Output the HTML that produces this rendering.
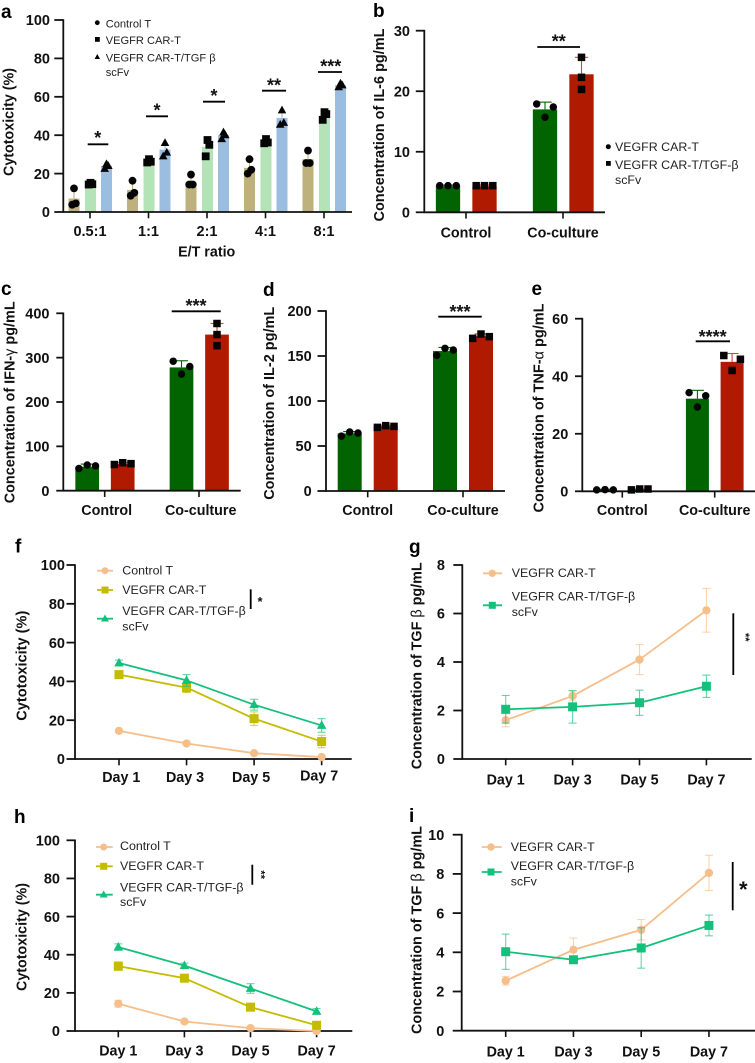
<!DOCTYPE html>
<html lang="en">
<head>
<meta charset="utf-8">
<title>CAR-T cytotoxicity and cytokine figure</title>
<style>
html,body{margin:0;padding:0;background:#fff;}
svg{display:block;position:absolute;left:0;top:0;filter:blur(0.3px);}
text{font-family:"Liberation Sans",Arial,sans-serif;fill:#111;}
.panel-letter{font-size:19px;font-weight:700;fill:#000;}
.ytitle{font-size:14.5px;font-weight:700;text-anchor:middle;}
.thin{font-weight:400;}
.leg-a{font-size:11.1px;fill:#222;}
.leg{font-size:12.4px;fill:#222;}
.star{font-size:18px;font-weight:700;text-anchor:middle;}
.xt{font-size:14.3px;font-weight:700;}
.sig{stroke:#000;stroke-width:1.8;fill:none;}
</style>
</head>
<body>
<svg id="figure" xmlns="http://www.w3.org/2000/svg" width="755" height="1063" viewBox="0 0 755 1063">
<rect x="0" y="0" width="755" height="1063" fill="#fff"/>

<g id="panel-a">
  <text class="panel-letter" x="1" y="18">a</text>
  <text class="ytitle" transform="translate(8.5,122) rotate(-90)" y="5" textLength="108" lengthAdjust="spacingAndGlyphs">Cytotoxicity (%)</text>
  <text class="xt" x="206.7" y="256.7" text-anchor="middle">E/T ratio</text>
  <g>
    <circle cx="97.3" cy="22.7" r="2.4" fill="#000"/>
    <text class="leg-a" x="105.7" y="27.3">Control T</text>
    <rect x="95" y="37" width="4.8" height="4.8" fill="#000"/>
    <text class="leg-a" x="105.7" y="44">VEGFR CAR-T</text>
    <polygon points="97.3,54 100,59 94.6,59" fill="#000"/>
    <text class="leg-a" x="105.7" y="61.3">VEGFR CAR-T/TGF β</text>
    <text class="leg-a" x="105.7" y="76">scFv</text>
  </g>
  <g>
    <line class="sig" x1="87.7" x2="108.3" y1="144.3" y2="144.3"/>
    <text class="star" x="97.7" y="144">*</text>
    <line class="sig" x1="146" x2="168" y1="116.3" y2="116.3"/>
    <text class="star" x="157" y="116.7">*</text>
    <line class="sig" x1="203" x2="225" y1="101.7" y2="101.7"/>
    <text class="star" x="214" y="102">*</text>
    <line class="sig" x1="262" x2="286" y1="90.7" y2="90.7"/>
    <text class="star" x="274" y="91.7">**</text>
    <line class="sig" x1="318" x2="342" y1="72" y2="72"/>
    <text class="star" x="330.7" y="72.7">***</text>
  </g>
</g>

<g id="panel-b">
  <text class="panel-letter" x="373" y="17">b</text>
  <text class="ytitle" transform="translate(379,125) rotate(-90)" y="5" textLength="193" lengthAdjust="spacingAndGlyphs">Concentration of IL-6 pg/mL</text>
  <g>
    <circle cx="608.3" cy="146.7" r="2.5" fill="#000"/>
    <text class="leg" x="615" y="151">VEGFR CAR-T</text>
    <rect x="606" y="161" width="4.8" height="4.8" fill="#000"/>
    <text class="leg" x="615" y="169">VEGFR CAR-T/TGF-β</text>
    <text class="leg" x="615" y="184">scFv</text>
  </g>
  <line class="sig" x1="537.3" x2="580" y1="47" y2="47"/>
  <text class="star" x="558.7" y="47.7">**</text>
</g>

<g id="panel-c">
  <text class="panel-letter" x="1" y="295">c</text>
  <text class="ytitle" transform="translate(9.3,402.3) rotate(-90)" y="5" textLength="202" lengthAdjust="spacingAndGlyphs">Concentration of IFN-<tspan class="thin">γ</tspan> pg/mL</text>
  <line class="sig" x1="171.7" x2="220.7" y1="311.3" y2="311.3"/>
  <text class="star" x="196" y="312">***</text>
</g>

<g id="panel-d">
  <text class="panel-letter" x="263" y="296">d</text>
  <text class="ytitle" transform="translate(269,403.3) rotate(-90)" y="5" textLength="193" lengthAdjust="spacingAndGlyphs">Concentration of IL-2 pg/mL</text>
  <line class="sig" x1="438.3" x2="481.7" y1="316.7" y2="316.7"/>
  <text class="star" x="460" y="318">***</text>
</g>

<g id="panel-e">
  <text class="panel-letter" x="531.5" y="295">e</text>
  <text class="ytitle" transform="translate(538.3,408) rotate(-90)" y="5" textLength="209" lengthAdjust="spacingAndGlyphs">Concentration of TNF-<tspan class="thin">α</tspan> pg/mL</text>
  <line class="sig" x1="695.7" x2="730" y1="341.3" y2="341.3"/>
  <text class="star" x="712.7" y="343">****</text>
</g>

<g id="panel-f">
  <text class="panel-letter" x="15" y="552.7">f</text>
  <text class="ytitle" transform="translate(21.7,665.7) rotate(-90)" y="5" textLength="110" lengthAdjust="spacingAndGlyphs">Cytotoxicity (%)</text>
  <g>
    <line x1="97" x2="113" y1="570.7" y2="570.7" stroke="#f5bf8c" stroke-width="1.8"/>
    <circle cx="105" cy="570.7" r="3.5" fill="#f5bf8c"/>
    <text class="leg" x="122.3" y="574.7">Control T</text>
    <line x1="97" x2="113" y1="590" y2="590" stroke="#c4bc00" stroke-width="1.8"/>
    <rect x="101.5" y="586.5" width="7" height="7" fill="#c4bc00"/>
    <text class="leg" x="122.3" y="594">VEGFR CAR-T</text>
    <line x1="97" x2="113" y1="618.7" y2="618.7" stroke="#14c07c" stroke-width="1.8"/>
    <polygon points="105,614.5 109,621.5 101,621.5" fill="#14c07c"/>
    <text class="leg" x="122.3" y="615">VEGFR CAR-T/TGF-β</text>
    <text class="leg" x="122.3" y="630.5">scFv</text>
  </g>
  <line class="sig" x1="250.7" x2="250.7" y1="589.3" y2="609"/>
  <text class="star" style="font-size:13px" x="260" y="606">*</text>
</g>

<g id="panel-g">
  <text class="panel-letter" x="409" y="553">g</text>
  <text class="ytitle" transform="translate(416.7,665.8) rotate(-90)" y="5" textLength="207" lengthAdjust="spacingAndGlyphs">Concentration of TGF <tspan class="thin">β</tspan> pg/mL</text>
  <g>
    <line x1="483" x2="502" y1="573.3" y2="573.3" stroke="#f5bf8c" stroke-width="1.8"/>
    <circle cx="492.3" cy="573.3" r="3.7" fill="#f5bf8c"/>
    <text class="leg" x="511.7" y="577">VEGFR CAR-T</text>
    <line x1="483" x2="502" y1="605.3" y2="605.3" stroke="#14c07c" stroke-width="1.8"/>
    <rect x="488.8" y="601.8" width="7" height="7" fill="#14c07c"/>
    <text class="leg" x="511.7" y="600.5">VEGFR CAR-T/TGF-β</text>
    <text class="leg" x="511.7" y="616">scFv</text>
  </g>
  <line class="sig" x1="733.3" x2="733.3" y1="613.3" y2="675"/>
  <text class="star" style="font-size:11px" transform="translate(748,637.3) rotate(90)" y="6">**</text>
</g>

<g id="panel-h">
  <text class="panel-letter" x="14" y="823">h</text>
  <text class="ytitle" transform="translate(21.7,937) rotate(-90)" y="5" textLength="108" lengthAdjust="spacingAndGlyphs">Cytotoxicity (%)</text>
  <g>
    <line x1="96" x2="112.7" y1="847" y2="847" stroke="#f5bf8c" stroke-width="1.8"/>
    <circle cx="103.7" cy="847" r="3.5" fill="#f5bf8c"/>
    <text class="leg" x="120" y="850">Control T</text>
    <line x1="96" x2="112.7" y1="866.3" y2="866.3" stroke="#c4bc00" stroke-width="1.8"/>
    <rect x="100.2" y="862.8" width="7" height="7" fill="#c4bc00"/>
    <text class="leg" x="120" y="870">VEGFR CAR-T</text>
    <line x1="96" x2="112.7" y1="894.7" y2="894.7" stroke="#14c07c" stroke-width="1.8"/>
    <polygon points="103.7,890.5 107.7,897.5 99.7,897.5" fill="#14c07c"/>
    <text class="leg" x="120" y="891.5">VEGFR CAR-T/TGF-β</text>
    <text class="leg" x="120" y="906">scFv</text>
  </g>
  <line class="sig" x1="252.3" x2="252.3" y1="864.7" y2="884.7"/>
  <text class="star" style="font-size:11px" transform="translate(263.3,874.7) rotate(90)" y="6">**</text>
</g>

<g id="panel-i">
  <text class="panel-letter" x="409" y="822">i</text>
  <text class="ytitle" transform="translate(416.7,930) rotate(-90)" y="5" textLength="208" lengthAdjust="spacingAndGlyphs">Concentration of TGF <tspan class="thin">β</tspan> pg/mL</text>
  <g>
    <line x1="481.7" x2="501.7" y1="847" y2="847" stroke="#f5bf8c" stroke-width="1.8"/>
    <circle cx="491" cy="847" r="3.7" fill="#f5bf8c"/>
    <text class="leg" x="510.7" y="851">VEGFR CAR-T</text>
    <line x1="481.7" x2="501.7" y1="872" y2="872" stroke="#14c07c" stroke-width="1.8"/>
    <rect x="487.5" y="868.5" width="7" height="7" fill="#14c07c"/>
    <text class="leg" x="510.7" y="870">VEGFR CAR-T/TGF-β</text>
    <text class="leg" x="510.7" y="885.5">scFv</text>
  </g>
  <line class="sig" x1="732.7" x2="732.7" y1="862" y2="910.3"/>
  <text class="star" style="font-size:22px" x="743.3" y="897">*</text>
</g>
</svg>

<script>
/* ---------- Panel a: cytotoxicity by E/T ratio ---------- */
const aCategories = ['0.5:1', '1:1', '2:1', '4:1', '8:1'];
const aTicks = [0, 20, 40, 60, 80, 100];
const aControlMeans = [7, 11.5, 15.5, 23, 27.5];
const aCarMeans = [14.5, 26, 34, 36, 50];
const aTgfMeans = [24, 32.5, 40, 49, 66];
const aControlErr = [5, 4, 3, 4, 4];
const aCarErr = [1, 1, 4.8, 1, 2];
const aTgfErr = [1.5, 3.5, 1.5, 4, 1];
const aControlPts = [[12.3, 4.5, 3.8], [16.3, 10, 8.5], [19.5, 14.3, 14.3], [27.5, 22, 20], [32, 25.5, 25.5]];
const aCarPts = [[15.2, 14.5, 14.3], [27.5, 26.2, 25.8], [37.5, 35, 29], [38, 36.2, 35.8], [52, 51, 48]];
const aTgfPts = [[25, 24, 22.5], [36, 31, 29], [41.5, 40, 38], [53, 46.5, 45.5], [67, 66, 65]];

/* ---------- Panel b: IL-6 ---------- */
const cytokineGroups = ['Control', 'Co-culture'];
const bTicks = [0, 10, 20, 30];
const bCarMeans = [4.3, 17];
const bTgfMeans = [4.3, 22.8];
const bCarErr = [0.2, 1.2];
const bTgfErr = [0.2, 2.8];
const bCarPts = [[4.4, 4.4, 4.4], [17.9, 15.7, 17.4]];
const bTgfPts = [[4.4, 4.4, 4.4], [25.6, 22.3, 20.3]];

/* ---------- Panel c: IFN-gamma ---------- */
const cTicks = [0, 100, 200, 300, 400];
const cCarMeans = [54, 278];
const cTgfMeans = [60, 352];
const cCarErr = [6, 15];
const cTgfErr = [3, 25];
const cCarPts = [[50, 58, 56], [292, 263, 280]];
const cTgfPts = [[59, 63, 61], [377, 352, 327]];

/* ---------- Panel d: IL-2 ---------- */
const dTicks = [0, 50, 100, 150, 200];
const dCarMeans = [64, 155.5];
const dTgfMeans = [72, 172];
const dCarErr = [2, 4];
const dTgfErr = [1, 2.5];
const dCarPts = [[61, 65.5, 64.4], [150.7, 158.5, 156.7]];
const dTgfPts = [[70.7, 72.6, 71.8], [169.6, 174.4, 171.5]];

/* ---------- Panel e: TNF-alpha ---------- */
const eTicks = [0, 20, 40, 60];
const eCarMeans = [0.6, 32.2];
const eTgfMeans = [0.7, 45];
const eCarErr = [0.1, 2.9];
const eTgfErr = [0.1, 2.9];
const eCarPts = [[0.5, 0.6, 0.5], [34.3, 29.3, 33.2]];
const eTgfPts = [[0.5, 0.8, 0.8], [47.2, 42, 45.9]];

/* ---------- Line panels ---------- */
const dayLabels = ['Day 1', 'Day 3', 'Day 5', 'Day 7'];
const pctTicks = [0, 20, 40, 60, 80, 100];

const fControl = [14.5, 8, 3, 1];
const fCar = [43.5, 36.8, 20.8, 9];
const fTgf = [49.5, 40.5, 28, 17.3];
const fControlErr = [0.6, 0.5, 0.5, 0.4];
const fCarErr = [1.5, 2.5, 3.5, 3.2];
const fTgfErr = [1.5, 3, 2.8, 3.5];

const gTicks = [0, 2, 4, 6, 8];
const gCar = [1.6, 2.6, 4.1, 6.13];
const gTgf = [2.05, 2.15, 2.32, 3.0];
const gCarErr = [0.27, 0.2, 0.62, 0.9];
const gTgfErr = [0.57, 0.67, 0.52, 0.46];

const hControl = [14.3, 5, 1.5, 0];
const hCar = [34, 27.7, 12.5, 3];
const hTgf = [44, 34.3, 22.3, 10.3];
const hControlErr = [1.8, 0.8, 0.8, 0.3];
const hCarErr = [2.2, 1.5, 2, 1.5];
const hTgfErr = [1.7, 1.3, 2.5, 1.5];

const iTicks = [0, 2, 4, 6, 8, 10];
const iCar = [2.55, 4.13, 5.15, 8.05];
const iTgf = [4.03, 3.62, 4.22, 5.37];
const iCarErr = [0.22, 0.6, 0.52, 0.9];
const iTgfErr = [0.9, 0.1, 1.03, 0.53];

/* ---------- Drawing helpers ---------- */
const SVGNS = 'http://www.w3.org/2000/svg';
function mk(parent, tag, name, attrs, txt) {
  const el = document.createElementNS(SVGNS, tag);
  
  
  for (const k in attrs) el.setAttribute(k, attrs[k]);
  if (txt !== undefined) el.textContent = txt;
  parent.appendChild(el);
  return el;
}
function linear(d0, d1, r0, r1) { return v => r0 + (v - d0) / (d1 - d0) * (r1 - r0); }
function hline(p, name, x1, x2, y, stroke, w, op) {
  return mk(p, 'line', name, { x1: x1, x2: x2, y1: y, y2: y, stroke: stroke, 'stroke-width': w, opacity: op === undefined ? 1 : op });
}
function vline(p, name, x, y1, y2, stroke, w, op) {
  return mk(p, 'line', name, { x1: x, x2: x, y1: y1, y2: y2, stroke: stroke, 'stroke-width': w, opacity: op === undefined ? 1 : op });
}
function marker(p, name, kind, x, y, s, fill) {
  if (kind === 'circle') return mk(p, 'circle', name, { cx: x, cy: y, r: s / 2, fill: fill });
  if (kind === 'square') return mk(p, 'rect', name, { x: x - s / 2, y: y - s / 2, width: s, height: s, fill: fill });
  const h = s * 0.9;
  const pts = x + ',' + (y - h * 0.6) + ' ' + (x + s / 2) + ',' + (y + h * 0.4) + ' ' + (x - s / 2) + ',' + (y + h * 0.4);
  return mk(p, 'polygon', name, { points: pts, fill: fill });
}
function axes(g, c, ticks, yMax, cats, xAt) {
  const y = linear(0, yMax, c.yBase, c.yTop);
  vline(g, 'y-axis-line', c.axisX, c.yTop - 0.8, c.yBase + 0.8, '#111', 1.8);
  hline(g, 'x-axis-line', c.axisX, c.axisEnd, c.yBase, '#111', 1.8);
  ticks.forEach(t => {
    hline(g, 'y-tick', c.axisX - c.tickLen, c.axisX, y(t), '#111', 1.8);
    mk(g, 'text', 'y-tick-label', { x: c.labelRight, y: y(t) + 5.2, 'text-anchor': 'end', 'font-size': 14.5, 'font-weight': 700 }, String(t));
  });
  cats.forEach((name, i) => {
    const x = xAt(i);
    vline(g, 'x-tick', x, c.yBase, c.yBase + 6.3, '#111', 1.6);
    const dx = c.labelDx ? c.labelDx[i] : 0;
    const dy = c.labelDy ? c.labelDy[i] : 0;
    mk(g, 'text', 'x-tick-label', { x: x + dx, y: c.labelY + dy, 'text-anchor': 'middle', 'font-size': c.labelSize || 14.3, 'font-weight': 700 }, name);
  });
  return y;
}
function barPanel(id, c, ticks, yMax, cats, series) {
  const g = document.getElementById(id);
  const xAt = i => c.firstX + i * c.stepX;
  const first = mk(g, 'g', 'bars', {});
  const y = axes(g, c, ticks, yMax, cats, xAt);
  const marks = mk(g, 'g', 'data-points', {});
  cats.forEach((cat, i) => {
    series.forEach(s => {
      const cx = xAt(i) + s.offset;
      const top = y(s.means[i]);
      mk(first, 'rect', 'bar-' + s.key, { x: cx - c.barW / 2, y: top, width: c.barW, height: c.yBase - top, fill: s.color });
      const errTop = y(s.means[i] + s.errs[i]);
      vline(first, 'error-bar-' + s.key, cx, top, errTop, s.errColor, 1.1);
      hline(first, 'error-cap-' + s.key, cx - c.capW, cx + c.capW, errTop, s.errColor, 1.1);
      s.pts[i].forEach((v, j) => {
        const jit = s.jitter ? s.jitter[i][j] : c.jitter[j];
        marker(marks, 'point-' + s.key, s.marker, cx + jit, y(v), s.size || c.size, '#050505');
      });
    });
  });
}
function linePanel(id, c, ticks, yMax, series) {
  const g = document.getElementById(id);
  const xAt = i => c.firstX + i * c.stepX;
  const y = axes(g, c, ticks, yMax, dayLabels, xAt);
  series.forEach(s => {
    const sg = mk(g, 'g', 'series-' + s.key, {});
    s.values.forEach((v, i) => {
      const x = xAt(i);
      const hi = y(v + s.errs[i]);
      const lo = y(Math.max(v - s.errs[i], 0));
      vline(sg, 'error-bar', x, hi, lo, s.color, 1.1, 0.65);
      hline(sg, 'error-cap-upper', x - 4, x + 4, hi, s.color, 1.1, 0.65);
      hline(sg, 'error-cap-lower', x - 4, x + 4, lo, s.color, 1.1, 0.65);
    });
    const d = s.values.map((v, i) => xAt(i) + ',' + y(v)).join(' ');
    mk(sg, 'polyline', 'line', { points: d, fill: 'none', stroke: s.color, 'stroke-width': 1.8, 'stroke-linejoin': 'round' });
    s.values.forEach((v, i) => marker(sg, 'point', s.marker, xAt(i), y(v), s.size, s.color));
  });
}

const BROWN = '#bfb17c', PALE = '#b5e3b8', BLUE = '#9bbde0';
const GREEN = '#016401', RED = '#b01a00';
const PEACH = '#f5bf8c', OLIVE = '#c4bc00', MINT = '#14c07c';
const spread = [-8.3, 0, 8.3];
const centred = [0, 0, 0];

barPanel('panel-a', { axisX: 63.3, axisEnd: 352, yTop: 20, yBase: 212, tickLen: 9, labelRight: 50, firstX: 90, stepX: 58.5, barW: 11, capW: 2.5, labelY: 236, labelSize: 14.5, jitter: [0, 1.8, -1.8], size: 7.8 },
  aTicks, 100, aCategories, [
    { key: 'control', means: aControlMeans, errs: aControlErr, pts: aControlPts, color: BROWN, errColor: BROWN, marker: 'circle', offset: -16 },
    { key: 'car', means: aCarMeans, errs: aCarErr, pts: aCarPts, color: PALE, errColor: PALE, marker: 'square', offset: 0.5 },
    { key: 'tgf', means: aTgfMeans, errs: aTgfErr, pts: aTgfPts, color: BLUE, errColor: BLUE, marker: 'triangle', offset: 16.5, size: 8.6 }
  ]);

barPanel('panel-b', { axisX: 424.3, axisEnd: 605, yTop: 30.7, yBase: 212.3, tickLen: 8.5, labelRight: 410, firstX: 466, stepX: 97, barW: 24.3, capW: 6.7, labelY: 237.3, jitter: spread, size: 7.5 },
  bTicks, 30, cytokineGroups, [
    { key: 'car', means: bCarMeans, errs: bCarErr, pts: bCarPts, color: GREEN, errColor: GREEN, marker: 'circle', offset: -18, jitter: [spread, spread] },
    { key: 'tgf', means: bTgfMeans, errs: bTgfErr, pts: bTgfPts, color: RED, errColor: '#d24a30', marker: 'square', offset: 18.5, jitter: [spread, centred] }
  ]);

barPanel('panel-c', { axisX: 63.3, axisEnd: 240.7, yTop: 313.3, yBase: 490.7, tickLen: 7, labelRight: 49.5, firstX: 104.7, stepX: 94.3, barW: 23.7, capW: 6.5, labelY: 515, labelDx: [2, 1.7], jitter: spread, size: 7.5 },
  cTicks, 400, cytokineGroups, [
    { key: 'car', means: cCarMeans, errs: cCarErr, pts: cCarPts, color: GREEN, errColor: GREEN, marker: 'circle', offset: -17.5, jitter: [spread, spread] },
    { key: 'tgf', means: cTgfMeans, errs: cTgfErr, pts: cTgfPts, color: RED, errColor: '#d24a30', marker: 'square', offset: 18, jitter: [spread, centred] }
  ]);

barPanel('panel-d', { axisX: 326, axisEnd: 505, yTop: 311, yBase: 491, tickLen: 8.5, labelRight: 311.7, firstX: 367.7, stepX: 95.3, barW: 24, capW: 6.5, labelY: 515, jitter: spread, size: 7.5 },
  dTicks, 200, cytokineGroups, [
    { key: 'car', means: dCarMeans, errs: dCarErr, pts: dCarPts, color: GREEN, errColor: GREEN, marker: 'circle', offset: -18 },
    { key: 'tgf', means: dTgfMeans, errs: dTgfErr, pts: dTgfPts, color: RED, errColor: '#d24a30', marker: 'square', offset: 18 }
  ]);

barPanel('panel-e', { axisX: 582.3, axisEnd: 755, yTop: 318.7, yBase: 491.3, tickLen: 7.3, labelRight: 568.3, firstX: 622.3, stepX: 92.4, barW: 23, capW: 6.5, labelY: 515, jitter: spread, size: 7.5 },
  eTicks, 60, cytokineGroups, [
    { key: 'car', means: eCarMeans, errs: eCarErr, pts: eCarPts, color: GREEN, errColor: GREEN, marker: 'circle', offset: -17.3 },
    { key: 'tgf', means: eTgfMeans, errs: eTgfErr, pts: eTgfPts, color: RED, errColor: '#d24a30', marker: 'square', offset: 17.4 }
  ]);

linePanel('panel-f', { axisX: 75, axisEnd: 351.7, yTop: 565, yBase: 759, tickLen: 8.5, labelRight: 65, firstX: 119, stepX: 67.55, labelY: 782, labelDx: [2.3, -1.5, -3, -2.5], labelDy: [0, 0, 0, -1.5] },
  pctTicks, 100, [
    { key: 'control', values: fControl, errs: fControlErr, color: PEACH, marker: 'circle', size: 8.3 },
    { key: 'car', values: fCar, errs: fCarErr, color: OLIVE, marker: 'square', size: 9 },
    { key: 'tgf', values: fTgf, errs: fTgfErr, color: MINT, marker: 'triangle', size: 9.5 }
  ]);

linePanel('panel-g', { axisX: 462.3, axisEnd: 751.7, yTop: 565, yBase: 759, tickLen: 9, labelRight: 445, firstX: 505.7, stepX: 66.9, labelY: 784.3 },
  gTicks, 8, [
    { key: 'car', values: gCar, errs: gCarErr, color: PEACH, marker: 'circle', size: 8.3 },
    { key: 'tgf', values: gTgf, errs: gTgfErr, color: MINT, marker: 'square', size: 9 }
  ]);

linePanel('panel-h', { axisX: 75, axisEnd: 352.3, yTop: 840.3, yBase: 1031, tickLen: 8.5, labelRight: 60, firstX: 118.3, stepX: 66.1, labelY: 1055.7 },
  pctTicks, 100, [
    { key: 'control', values: hControl, errs: hControlErr, color: PEACH, marker: 'circle', size: 8.3 },
    { key: 'car', values: hCar, errs: hCarErr, color: OLIVE, marker: 'square', size: 9 },
    { key: 'tgf', values: hTgf, errs: hTgfErr, color: MINT, marker: 'triangle', size: 9.5 }
  ]);

linePanel('panel-i', { axisX: 461.7, axisEnd: 755, yTop: 834.7, yBase: 1030.7, tickLen: 9, labelRight: 444.3, firstX: 505.7, stepX: 67.75, labelY: 1056.3 },
  iTicks, 10, [
    { key: 'car', values: iCar, errs: iCarErr, color: PEACH, marker: 'circle', size: 8.3 },
    { key: 'tgf', values: iTgf, errs: iTgfErr, color: MINT, marker: 'square', size: 9 }
  ]);
</script>
</body>
</html>
